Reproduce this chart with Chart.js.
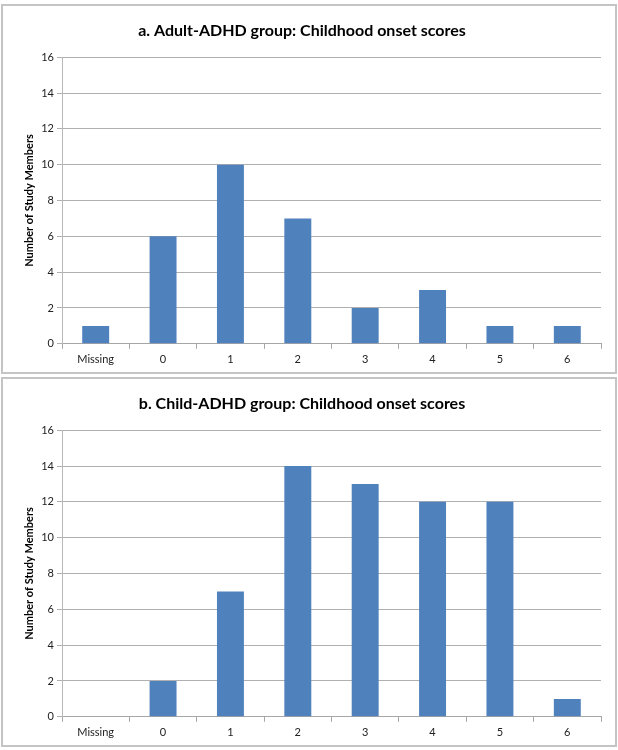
<!DOCTYPE html>
<html>
<head>
<meta charset="utf-8">
<script src="https://cdn.jsdelivr.net/npm/chart.js@4/dist/chart.umd.min.js"></script>
<style>
  html, body { margin: 0; padding: 0; background: #fff; }
  body { width: 618px; height: 750px; position: relative; overflow: hidden; }
  .panel { position: absolute; left: 1px; width: 612px; height: 366px; border: 2px solid #c4c4c4; box-sizing: content-box; }
  #pa { top: 4px; }
  #pb { top: 377px; }
  canvas { display: block; }
</style>
</head>
<body>
<div class="panel" id="pa"><canvas id="ca" width="612" height="366"></canvas></div>
<div class="panel" id="pb"><canvas id="cb" width="612" height="366"></canvas></div>
<script>
const categories = ['Missing', '0', '1', '2', '3', '4', '5', '6'];
const adultValues = [1, 6, 10, 7, 2, 3, 1, 1];
const childValues = [0, 2, 7, 14, 13, 12, 12, 1];
const titleA = 'a. Adult-ADHD group: Childhood onset scores';
const titleB = 'b. Child-ADHD group: Childhood onset scores';
const yAxisTitle = 'Number of Study Members';
const yMax = 16;
const yStep = 2;

const FONT = 'Lato, "Open Sans", "Liberation Sans", sans-serif';

function makeChart(id, title, values) {
  return new Chart(document.getElementById(id), {
    type: 'bar',
    data: {
      labels: categories,
      datasets: [{
        data: values,
        backgroundColor: '#4F81BD',
        borderWidth: 0,
        categoryPercentage: 1,
        barPercentage: 0.4
      }]
    },
    options: {
      responsive: false,
      animation: false,
      events: [],
      layout: { padding: { left: 0, right: 14, top: 0, bottom: 2 } },
      plugins: {
        legend: { display: false },
        tooltip: { enabled: false },
        title: {
          display: true,
          text: title,
          color: '#000',
          font: { family: FONT, size: 16, weight: 'bold' },
          padding: { top: 15, bottom: 17 }
        }
      },
      scales: {
        x: {
          grid: { display: true, drawOnChartArea: false, drawTicks: true, tickLength: 5, color: '#a6a6a6', offset: true },
          border: { display: true, color: '#a6a6a6' },
          ticks: { color: '#222', font: { family: FONT, size: 11 }, padding: 4 }
        },
        y: {
          min: 0,
          max: yMax,
          ticks: { stepSize: yStep, color: '#222', font: { family: FONT, size: 11 }, padding: 3 },
          grid: { color: '#b0b0b0', tickLength: 5 },
          border: { display: true, color: '#b8b8b8' },
          title: {
            display: true,
            text: yAxisTitle,
            color: '#000',
            font: { family: FONT, size: 11, weight: 'bold' },
            padding: { top: 20, bottom: 0 }
          },
          afterFit: function (scale) { scale.width = 59; }
        }
      }
    }
  });
}

makeChart('ca', titleA, adultValues);
makeChart('cb', titleB, childValues);
</script>
</body>
</html>
